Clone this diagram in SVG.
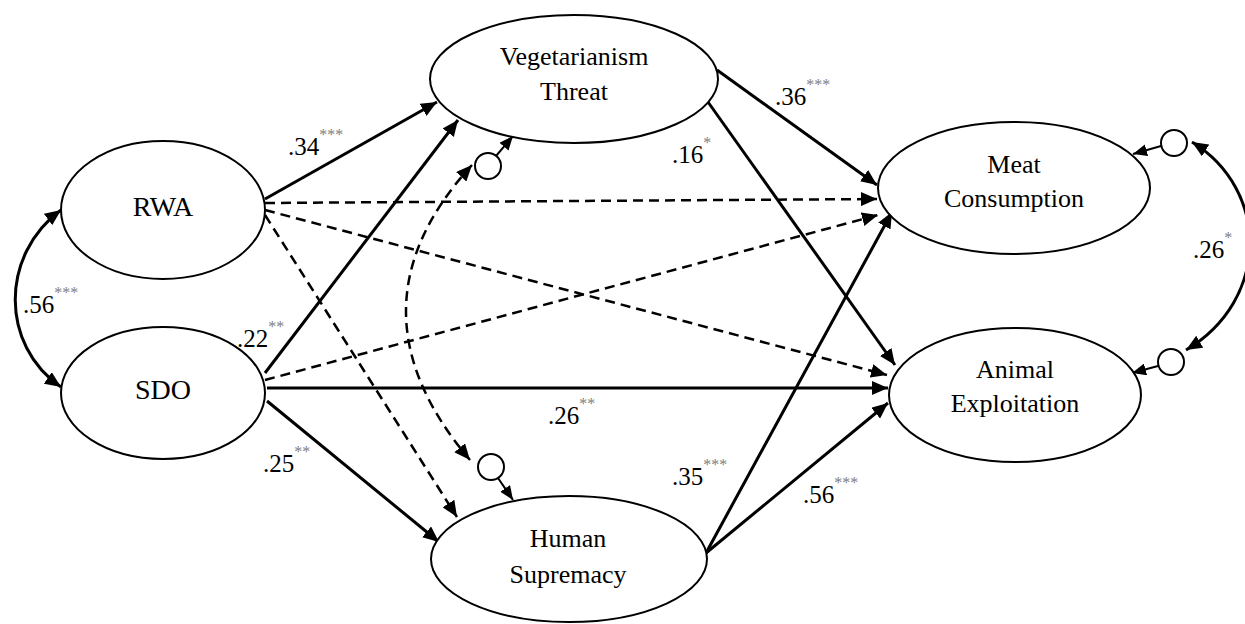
<svg xmlns="http://www.w3.org/2000/svg" width="1245" height="624" viewBox="0 0 1245 624">
<style>
.node{fill:#fff;stroke:#000;stroke-width:2}
text{font-family:"Liberation Serif","DejaVu Serif",serif}
.lbl{font-size:26px;fill:#000;text-anchor:middle}
.big{font-size:28px}
.c{fill:none;stroke:#000;stroke-width:3}
.d{fill:none;stroke:#000;stroke-width:2.5;stroke-dasharray:10 6}
.r{fill:none;stroke:#000;stroke-width:2}
.res{fill:#fff;stroke:#000;stroke-width:2}
.num{font-size:25px;fill:#000}
.sup{font-size:16px;fill:#808080}
</style>
<defs>
<marker id="ah" markerUnits="userSpaceOnUse" markerWidth="16" markerHeight="14" refX="16" refY="7" orient="auto-start-reverse">
<path d="M0,0 L16,7 L0,14 z" fill="#000"/>
</marker>
<marker id="as" markerUnits="userSpaceOnUse" markerWidth="14" markerHeight="12" refX="14" refY="6" orient="auto-start-reverse">
<path d="M0,0 L14,6 L0,12 z" fill="#000"/>
</marker>
</defs>
<g id="connectors">
<line class="c" x1="265" y1="199" x2="437" y2="102" marker-end="url(#ah)"/>
<line class="c" x1="265" y1="373" x2="458" y2="120" marker-end="url(#ah)"/>
<line class="c" x1="267" y1="388" x2="888" y2="388" marker-end="url(#ah)"/>
<line class="c" x1="267" y1="401" x2="439" y2="542" marker-end="url(#ah)"/>
<line class="c" x1="717" y1="70" x2="877" y2="185" marker-end="url(#ah)"/>
<line class="c" x1="708" y1="102" x2="895" y2="365" marker-end="url(#ah)"/>
<line class="c" x1="706" y1="553" x2="892" y2="212" marker-end="url(#ah)"/>
<line class="c" x1="706" y1="553" x2="888" y2="403" marker-end="url(#ah)"/>
<line class="d" x1="265" y1="203" x2="877" y2="199" marker-end="url(#ah)"/>
<line class="d" x1="265" y1="380" x2="878" y2="215" marker-end="url(#ah)"/>
<line class="d" x1="265" y1="210" x2="887" y2="375" marker-end="url(#ah)"/>
<line class="d" x1="265" y1="215" x2="457" y2="517" marker-end="url(#ah)"/>
<path class="d" d="M472,165 Q341,308 470,460" marker-start="url(#ah)" marker-end="url(#ah)"/>
<path class="c" d="M61,210 C0,255 0,345 61,387" marker-start="url(#ah)" marker-end="url(#ah)"/>
<path class="c" d="M1192,142 C1270,190 1270,300 1186,350" marker-start="url(#ah)" marker-end="url(#ah)"/>
<line class="r" x1="496" y1="156" x2="513" y2="136" marker-end="url(#as)"/>
<line class="r" x1="498" y1="478" x2="513" y2="500" marker-end="url(#as)"/>
<line class="r" x1="1161" y1="146" x2="1133" y2="154" marker-end="url(#as)"/>
<line class="r" x1="1158" y1="366" x2="1132" y2="373" marker-end="url(#as)"/>
</g>
<g id="residuals">
<circle class="res" cx="488" cy="166" r="13"/>
<circle class="res" cx="491" cy="467" r="13"/>
<circle class="res" cx="1174" cy="143" r="13"/>
<circle class="res" cx="1171" cy="362" r="13"/>
</g>
<g id="RWA">
<ellipse class="node" cx="163" cy="210" rx="102" ry="69"/>
<text class="lbl big" x="163" y="216">RWA</text>
</g>
<g id="SDO">
<ellipse class="node" cx="163" cy="393" rx="102" ry="66"/>
<text class="lbl big" x="163" y="399">SDO</text>
</g>
<g id="VT">
<ellipse class="node" cx="574" cy="79" rx="144" ry="64"/>
<text class="lbl" x="574" y="65">Vegetarianism</text>
<text class="lbl" x="574" y="100">Threat</text>
</g>
<g id="HS">
<ellipse class="node" cx="569" cy="559" rx="138" ry="63"/>
<text class="lbl" x="568" y="547">Human</text>
<text class="lbl" x="568" y="583">Supremacy</text>
</g>
<g id="MC">
<ellipse class="node" cx="1014" cy="188" rx="136" ry="66"/>
<text class="lbl" x="1014" y="173">Meat</text>
<text class="lbl" x="1014" y="207">Consumption</text>
</g>
<g id="AE">
<ellipse class="node" cx="1015" cy="395" rx="126" ry="67"/>
<text class="lbl" x="1015" y="378">Animal</text>
<text class="lbl" x="1015" y="412">Exploitation</text>
</g>
<g id="labels">
<text class="num" x="288" y="155">.34<tspan class="sup" dy="-15">***</tspan></text>
<text class="num" x="23" y="313">.56<tspan class="sup" dy="-15">***</tspan></text>
<text class="num" x="237" y="347">.22<tspan class="sup" dy="-15">**</tspan></text>
<text class="num" x="263" y="472">.25<tspan class="sup" dy="-15">**</tspan></text>
<text class="num" x="548" y="424">.26<tspan class="sup" dy="-15">**</tspan></text>
<text class="num" x="672" y="163">.16<tspan class="sup" dy="-15">*</tspan></text>
<text class="num" x="775" y="105">.36<tspan class="sup" dy="-15">***</tspan></text>
<text class="num" x="672" y="485">.35<tspan class="sup" dy="-15">***</tspan></text>
<text class="num" x="803" y="503">.56<tspan class="sup" dy="-15">***</tspan></text>
<text class="num" x="1193" y="258">.26<tspan class="sup" dy="-15">*</tspan></text>
</g>
</svg>
